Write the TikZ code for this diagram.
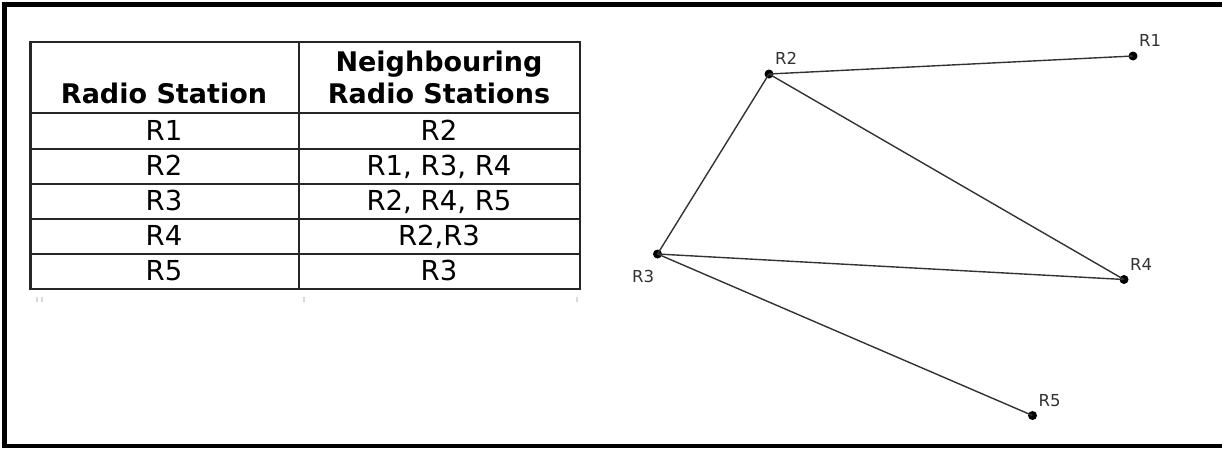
\documentclass[tikz,border=0pt]{standalone}
\usepackage{fontspec}
\setmainfont{DejaVu Sans}
\begin{document}
\begin{tikzpicture}[x=1pt,y=-1pt,
  frame/.style={line width=5pt,black},
  grid/.style={line width=2.6pt,black!85,line cap=rect},
  cell/.style={anchor=base,inner sep=0pt,font=\fontsize{27.5}{32}\selectfont},
  head/.style={anchor=base,inner sep=0pt,font=\fontsize{27}{32}\selectfont\bfseries,align=center},
  station/.style={circle,fill=black,inner sep=0pt,minimum size=9pt},
  link/.style={line width=1.4pt,black!80},
  lbl/.style={anchor=base west,inner sep=0pt,text=black!80,font=\fontsize{16.5}{19}\selectfont},
  tick/.style={line width=1.5pt,black!15}]
\useasboundingbox (0,0) rectangle (1222,448);
\fill[white] (0,0) rectangle (1222,448);
% frame
\draw[frame] (4.5,448) -- (4.5,4.5) -- (1222,4.5);
\draw[line width=4pt,black] (2,446) -- (1222,446);
% table grid
\draw[grid] (30.5,42) rectangle (580,289);
\draw[grid] (299,42) -- (299,289);
\foreach \yy in {113,149,184,219,254} \draw[grid] (30.5,\yy) -- (580,\yy);
% header
\node[head] (h1) at (164,103) {Radio Station};
\node[head] (h2a) at (439,71) {Neighbouring};
\node[head] (h2b) at (439,103) {Radio Stations};
% rows
\node[cell] (c1) at (164,140) {R1};
\node[cell] (d1) at (439,140) {R2};
\node[cell] (c2) at (164,175) {R2};
\node[cell] (d2) at (439,175) {R1, R3, R4};
\node[cell] (c3) at (164,210) {R3};
\node[cell] (d3) at (439,210) {R2, R4, R5};
\node[cell] (c4) at (164,245) {R4};
\node[cell] (d4) at (439,245) {R2,R3};
\node[cell] (c5) at (164,280) {R5};
\node[cell] (d5) at (439,280) {R3};
% faint ticks below table
\draw[tick] (37,297) -- (37,302);
\draw[tick] (42,297) -- (42,302);
\draw[tick] (304,297) -- (304,302);
\draw[tick] (577,297) -- (577,302);
% graph
\node[station] (R1) at (1133,56) {};
\node[station] (R2) at (769,74) {};
\node[station] (R3) at (657.5,254) {};
\node[station] (R4) at (1124,279.5) {};
\node[station] (R5) at (1032.5,415.5) {};
\draw[link] (R2.center) -- (R1.center);
\draw[link] (R2.center) -- (R4.center);
\draw[link] (R2.center) -- (R3.center);
\draw[link] (R3.center) -- (R4.center);
\draw[link] (R3.center) -- (R5.center);
\node[lbl] (L1) at (1139,46) {R1};
\node[lbl] (L2) at (775,64) {R2};
\node[lbl] (L3) at (632,282) {R3};
\node[lbl] (L4) at (1130,270) {R4};
\node[lbl] (L5) at (1038.5,406.5) {R5};
\end{tikzpicture}
\end{document}
